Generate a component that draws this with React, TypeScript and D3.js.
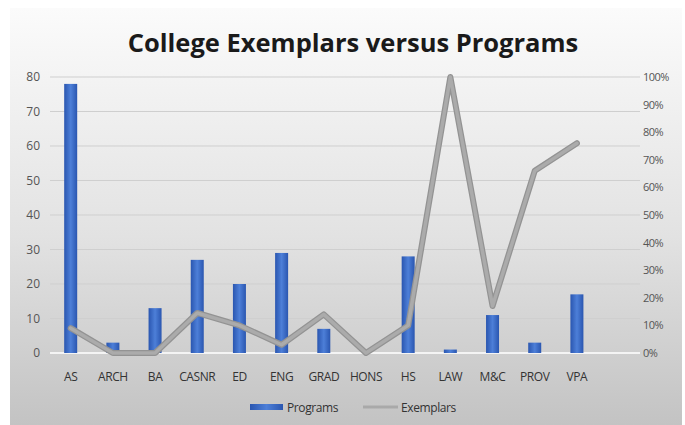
import React, { useEffect, useRef } from 'react';
import * as d3 from 'd3';

// chart data
const categories = ['AS', 'ARCH', 'BA', 'CASNR', 'ED', 'ENG', 'GRAD', 'HONS', 'HS', 'LAW', 'M&C', 'PROV', 'VPA'];
const programs = [78, 3, 13, 27, 20, 29, 7, 0, 28, 1, 11, 3, 17];
const exemplars = [0.09, 0, 0, 0.145, 0.1, 0.03, 0.14, 0, 0.1, 1.0, 0.17, 0.66, 0.76];
const leftTicks = [0, 10, 20, 30, 40, 50, 60, 70, 80];
const rightTicks = [0, 0.1, 0.2, 0.3, 0.4, 0.5, 0.6, 0.7, 0.8, 0.9, 1.0];

const W = 685;
const H = 425;
const FONT = "'Open Sans', 'Noto Sans', sans-serif";

export default function App() {
  const ref = useRef<SVGSVGElement>(null);

  useEffect(() => {
    if (!ref.current) return;
    const svg = d3.select(ref.current);
    svg.selectAll('*').remove();

    const top = 77;
    const bottom = 353;
    const gridLeft = 50;
    const gridRight = 640;

    const x = d3.scalePoint<string>().domain(categories).range([49.6, 598]).padding(0.5);
    const yL = d3.scaleLinear().domain([0, 80]).range([bottom, top]);
    const yR = d3.scaleLinear().domain([0, 1]).range([bottom, top]);

    const defs = svg.append('defs');
    const bg = defs.append('linearGradient').attr('id', 'bg').attr('x1', 0).attr('y1', 0).attr('x2', 0).attr('y2', 1);
    bg.append('stop').attr('offset', '0%').attr('stop-color', '#fbfbfb');
    bg.append('stop').attr('offset', '55%').attr('stop-color', '#e2e2e2');
    bg.append('stop').attr('offset', '100%').attr('stop-color', '#c3c3c3');

    const barGrad = defs.append('linearGradient').attr('id', 'bar').attr('x1', 0).attr('y1', 0).attr('x2', 1).attr('y2', 0);
    barGrad.append('stop').attr('offset', '0%').attr('stop-color', '#2a56b0');
    barGrad.append('stop').attr('offset', '50%').attr('stop-color', '#4d7fd8');
    barGrad.append('stop').attr('offset', '100%').attr('stop-color', '#2a56b0');

    svg.append('rect').attr('width', W).attr('height', H).attr('fill', '#ffffff');
    svg.append('rect').attr('x', 10).attr('y', 8).attr('width', 672).attr('height', H - 8).attr('fill', 'url(#bg)');

    // title
    svg.append('text')
      .attr('x', 353).attr('y', 52)
      .attr('text-anchor', 'middle')
      .attr('font-family', FONT)
      .attr('font-weight', 700)
      .attr('font-size', 25.5)
      .attr('fill', '#1a1a1a')
      .text('College Exemplars versus Programs');

    // gridlines
    svg.append('g').selectAll('line')
      .data(leftTicks)
      .enter().append('line')
      .attr('x1', gridLeft).attr('x2', gridRight)
      .attr('y1', d => yL(d)).attr('y2', d => yL(d))
      .attr('stroke', d => (d === 0 ? '#f4f4f4' : '#cfcfcf'))
      .attr('stroke-width', d => (d === 0 ? 2 : 1));

    // left axis labels
    svg.append('g').selectAll('text')
      .data(leftTicks)
      .enter().append('text')
      .attr('x', 40).attr('y', d => yL(d) + 4)
      .attr('text-anchor', 'end')
      .attr('font-family', FONT).attr('font-size', 12)
      .attr('fill', '#555')
      .text(d => d);

    // right axis labels
    svg.append('g').selectAll('text')
      .data(rightTicks)
      .enter().append('text')
      .attr('x', 643).attr('y', d => yR(d) + 4)
      .attr('text-anchor', 'start')
      .attr('font-family', FONT).attr('font-size', 11)
      .attr('letter-spacing', -0.5)
      .attr('fill', '#555')
      .text(d => d3.format('.0%')(d));

    // bars
    const bw = 13;
    svg.append('g').selectAll('rect')
      .data(programs)
      .enter().append('rect')
      .attr('x', (d, i) => (x(categories[i]) ?? 0) - bw / 2)
      .attr('y', d => yL(d))
      .attr('width', bw)
      .attr('height', d => bottom - yL(d))
      .attr('fill', 'url(#bar)');

    // exemplar line
    const line = d3.line<number>()
      .x((d, i) => x(categories[i]) ?? 0)
      .y(d => yR(d));
    svg.append('path').datum(exemplars)
      .attr('d', line)
      .attr('fill', 'none')
      .attr('stroke', '#939393')
      .attr('stroke-width', 6)
      .attr('stroke-linejoin', 'round')
      .attr('stroke-linecap', 'round');
    svg.append('path').datum(exemplars)
      .attr('d', line)
      .attr('fill', 'none')
      .attr('stroke', '#ababab')
      .attr('stroke-width', 3.5)
      .attr('stroke-linejoin', 'round')
      .attr('stroke-linecap', 'round');

    // category labels
    svg.append('g').selectAll('text')
      .data(categories)
      .enter().append('text')
      .attr('x', d => x(d) ?? 0).attr('y', 381)
      .attr('text-anchor', 'middle')
      .attr('font-family', FONT).attr('font-size', 12)
      .attr('letter-spacing', -0.4)
      .attr('fill', '#333')
      .text(d => d);

    // legend
    const legend = svg.append('g').attr('font-family', FONT).attr('font-size', 12).attr('fill', '#333');
    legend.append('rect').attr('x', 250).attr('y', 404).attr('width', 33).attr('height', 6).attr('fill', 'url(#bar)');
    legend.append('text').attr('x', 287).attr('y', 412).attr('letter-spacing', -0.4).text('Programs');
    legend.append('line').attr('x1', 363).attr('x2', 398).attr('y1', 407).attr('y2', 407)
      .attr('stroke', '#a9a9a9').attr('stroke-width', 3);
    legend.append('text').attr('x', 401).attr('y', 412).attr('letter-spacing', -0.4).text('Exemplars');
  }, []);

  return (
    <svg
      ref={ref}
      width={W}
      height={H}
      style={{ position: 'absolute', left: 0, top: 0, display: 'block' }}
    />
  );
}
